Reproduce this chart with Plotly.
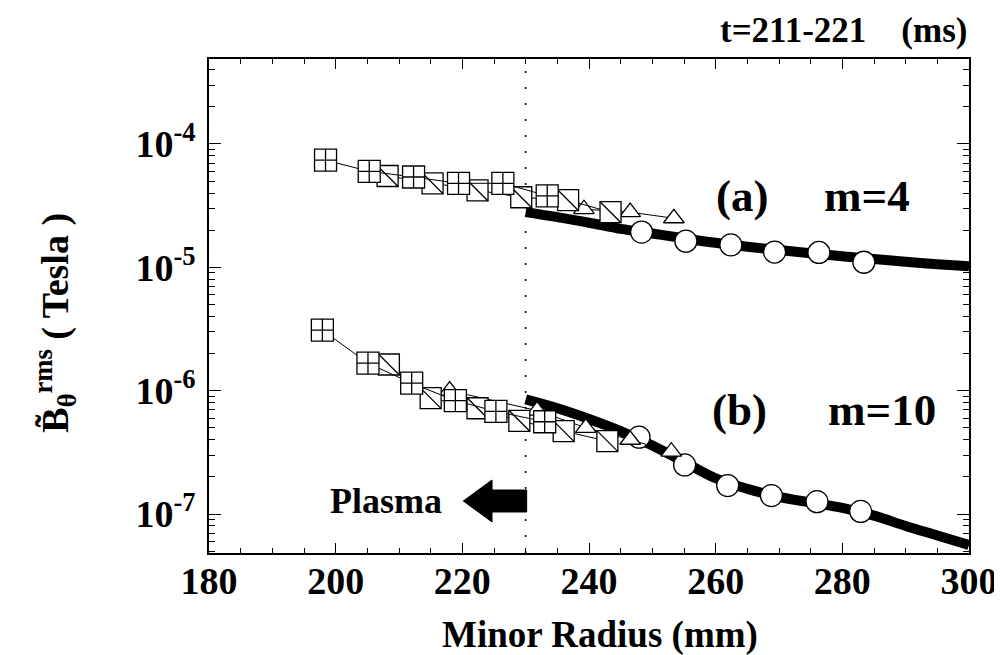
import plotly.graph_objects as go

# ---------------- data ----------------
# (a) m=4
r_a_sq = [198.4, 205.3, 212.3, 219.4, 226.4, 233.4]
b_a_sq = [7.4e-5, 6.0e-5, 5.4e-5, 4.8e-5, 4.8e-5, 3.8e-5]
r_a_diag = [208.2, 215.3, 222.4, 229.3, 236.7, 243.4]
b_a_diag = [5.5e-5, 4.8e-5, 4.2e-5, 3.7e-5, 3.5e-5, 2.8e-5]
r_a_tri = [239.2, 246.5, 253.4]
b_a_tri = [2.96e-5, 2.8e-5, 2.5e-5]
r_a_circ = [248.3, 255.3, 262.4, 269.3, 276.3, 283.4]
b_a_circ = [1.93e-5, 1.63e-5, 1.52e-5, 1.33e-5, 1.32e-5, 1.1e-5]
r_curve = [230, 235, 240, 245, 250, 255, 260, 265, 270, 275, 280, 285, 290, 295, 300]
b_a_curve = [2.8e-5, 2.55e-5, 2.3e-5, 2.05e-5, 1.88e-5, 1.72e-5, 1.58e-5, 1.47e-5,
             1.38e-5, 1.3e-5, 1.23e-5, 1.17e-5, 1.11e-5, 1.06e-5, 1.02e-5]

# (b) m=10
r_b_sq = [197.9, 205.1, 212.0, 218.9, 225.3, 233.0]
b_b_sq = [3.1e-6, 1.67e-6, 1.15e-6, 8.3e-7, 6.8e-7, 5.6e-7]
r_b_diag = [208.4, 215.0, 222.4, 229.0, 236.0, 242.9]
b_b_diag = [1.63e-6, 8.7e-7, 7.2e-7, 5.7e-7, 4.7e-7, 3.9e-7]
r_b_tri = [218.0, 231.8, 239.5, 246.5, 253.0]
b_b_tri = [1.0e-6, 6.9e-7, 5.0e-7, 4.0e-7, 3.2e-7]
r_b_circ = [247.9, 255.1, 261.9, 268.8, 276.0, 282.9]
b_b_circ = [4.2e-7, 2.5e-7, 1.7e-7, 1.41e-7, 1.26e-7, 1.05e-7]
b_b_curve = [8.5e-7, 7.2e-7, 5.9e-7, 4.7e-7, 3.6e-7, 2.65e-7, 1.95e-7, 1.6e-7,
             1.38e-7, 1.24e-7, 1.12e-7, 9.7e-8, 8.0e-8, 6.7e-8, 5.6e-8]

x_tickvals = [180, 200, 220, 240, 260, 280, 300]
y_tickvals = [1e-7, 1e-6, 1e-5, 1e-4]
y_ticktext = ["10<sup>-7</sup>", "10<sup>-6</sup>", "10<sup>-5</sup>", "10<sup>-4</sup>"]
r_boundary = 230

FONT = "Liberation Serif"
BLACK = "black"

fig = go.Figure()


def thick(x, y):
    fig.add_trace(go.Scatter(x=x, y=y, mode="lines",
                             line=dict(color=BLACK, width=10, shape="spline"),
                             hoverinfo="skip"))


def series(x, y, symbol, size):
    fig.add_trace(go.Scatter(x=x, y=y, mode="lines+markers",
                             line=dict(color=BLACK, width=1),
                             marker=dict(symbol=symbol, size=size, color="white",
                                         line=dict(color=BLACK, width=1.3))))


def diag(x, y, size):
    series(x, y, "square", size)
    fig.add_trace(go.Scatter(x=x, y=y, mode="markers",
                             marker=dict(symbol="line-nw", size=size, color=BLACK,
                                         line=dict(color=BLACK, width=1.3))))


for (rc, bc, rci, bci, rt, bt, rd, bd, rs, bs) in [
    (r_curve, b_a_curve, r_a_circ, b_a_circ, r_a_tri, b_a_tri, r_a_diag, b_a_diag, r_a_sq, b_a_sq),
    (r_curve, b_b_curve, r_b_circ, b_b_circ, r_b_tri, b_b_tri, r_b_diag, b_b_diag, r_b_sq, b_b_sq),
]:
    thick(rc, bc)
    series(rci, bci, "circle", 22)
    series(rt, bt, "triangle-up", 18)
    diag(rd, bd, 21)
    series(rs, bs, "square-cross", 22)

# dotted vertical line at the boundary
fig.add_shape(type="line", xref="x", yref="paper", x0=r_boundary, x1=r_boundary, y0=0, y1=1,
              line=dict(color=BLACK, width=1.5, dash="2px,14px"), layer="below")

# Plasma arrow (paper coords)
fig.add_shape(type="path", xref="paper", yref="paper",
              path="M 0.3346 0.1053 L 0.3724 0.1478 L 0.3724 0.1275 L 0.4180 0.1275 "
                   "L 0.4180 0.0830 L 0.3724 0.0830 L 0.3724 0.0628 Z",
              fillcolor=BLACK, line=dict(color=BLACK, width=1))


def label(text, x, y, size, angle=0, xanchor="center"):
    fig.add_annotation(text=text, x=x, y=y, xref="paper", yref="paper",
                       xanchor=xanchor, yanchor="middle", textangle=angle,
                       showarrow=False,
                       font=dict(family=FONT, size=size, color=BLACK, weight="bold"))


label("(a)", 0.7018, 0.7227, 45)
label("m=4", 0.8659, 0.7227, 45)
label("(b)", 0.698, 0.2895, 45)
label("m=10", 0.8854, 0.2895, 45)
label("Plasma", 0.233, 0.1053, 36)
label("t=211-221\u00a0\u00a0\u00a0\u00a0(ms)", 1.0, 1.0567, 35, xanchor="right")
label("B\u0303<sub>θ</sub><sup>rms</sup> ( Tesla )", -0.203, 0.4656, 38, angle=-90)
label("Minor Radius (mm)", 0.514, -0.166, 37)

axis_common = dict(showline=True, linecolor=BLACK, linewidth=1.5, mirror="allticks",
                   ticks="inside", tickcolor=BLACK, showgrid=False, zeroline=False)

fig.update_xaxes(range=[180, 300], tickvals=x_tickvals, ticklen=10, tickwidth=1.2,
                 minor=dict(ticks="inside", dtick=5, ticklen=5, tickcolor=BLACK),
                 tickfont=dict(family=FONT, size=38, color=BLACK, weight="bold"),
                 ticklabelstandoff=-6, **axis_common)
fig.update_yaxes(type="log", range=[-7.316, -3.311], tickvals=y_tickvals, ticktext=y_ticktext,
                 ticklen=12, tickwidth=1.2,
                 minor=dict(ticks="inside", dtick="D1", ticklen=6, tickcolor=BLACK),
                 tickfont=dict(family=FONT, size=38, color=BLACK, weight="bold"),
                 ticklabelstandoff=4, **axis_common)

fig.update_layout(width=1002, height=655, showlegend=False,
                  margin=dict(l=201, r=33, t=51, b=110),
                  paper_bgcolor="white", plot_bgcolor="white")

fig.write_html("out.html")
